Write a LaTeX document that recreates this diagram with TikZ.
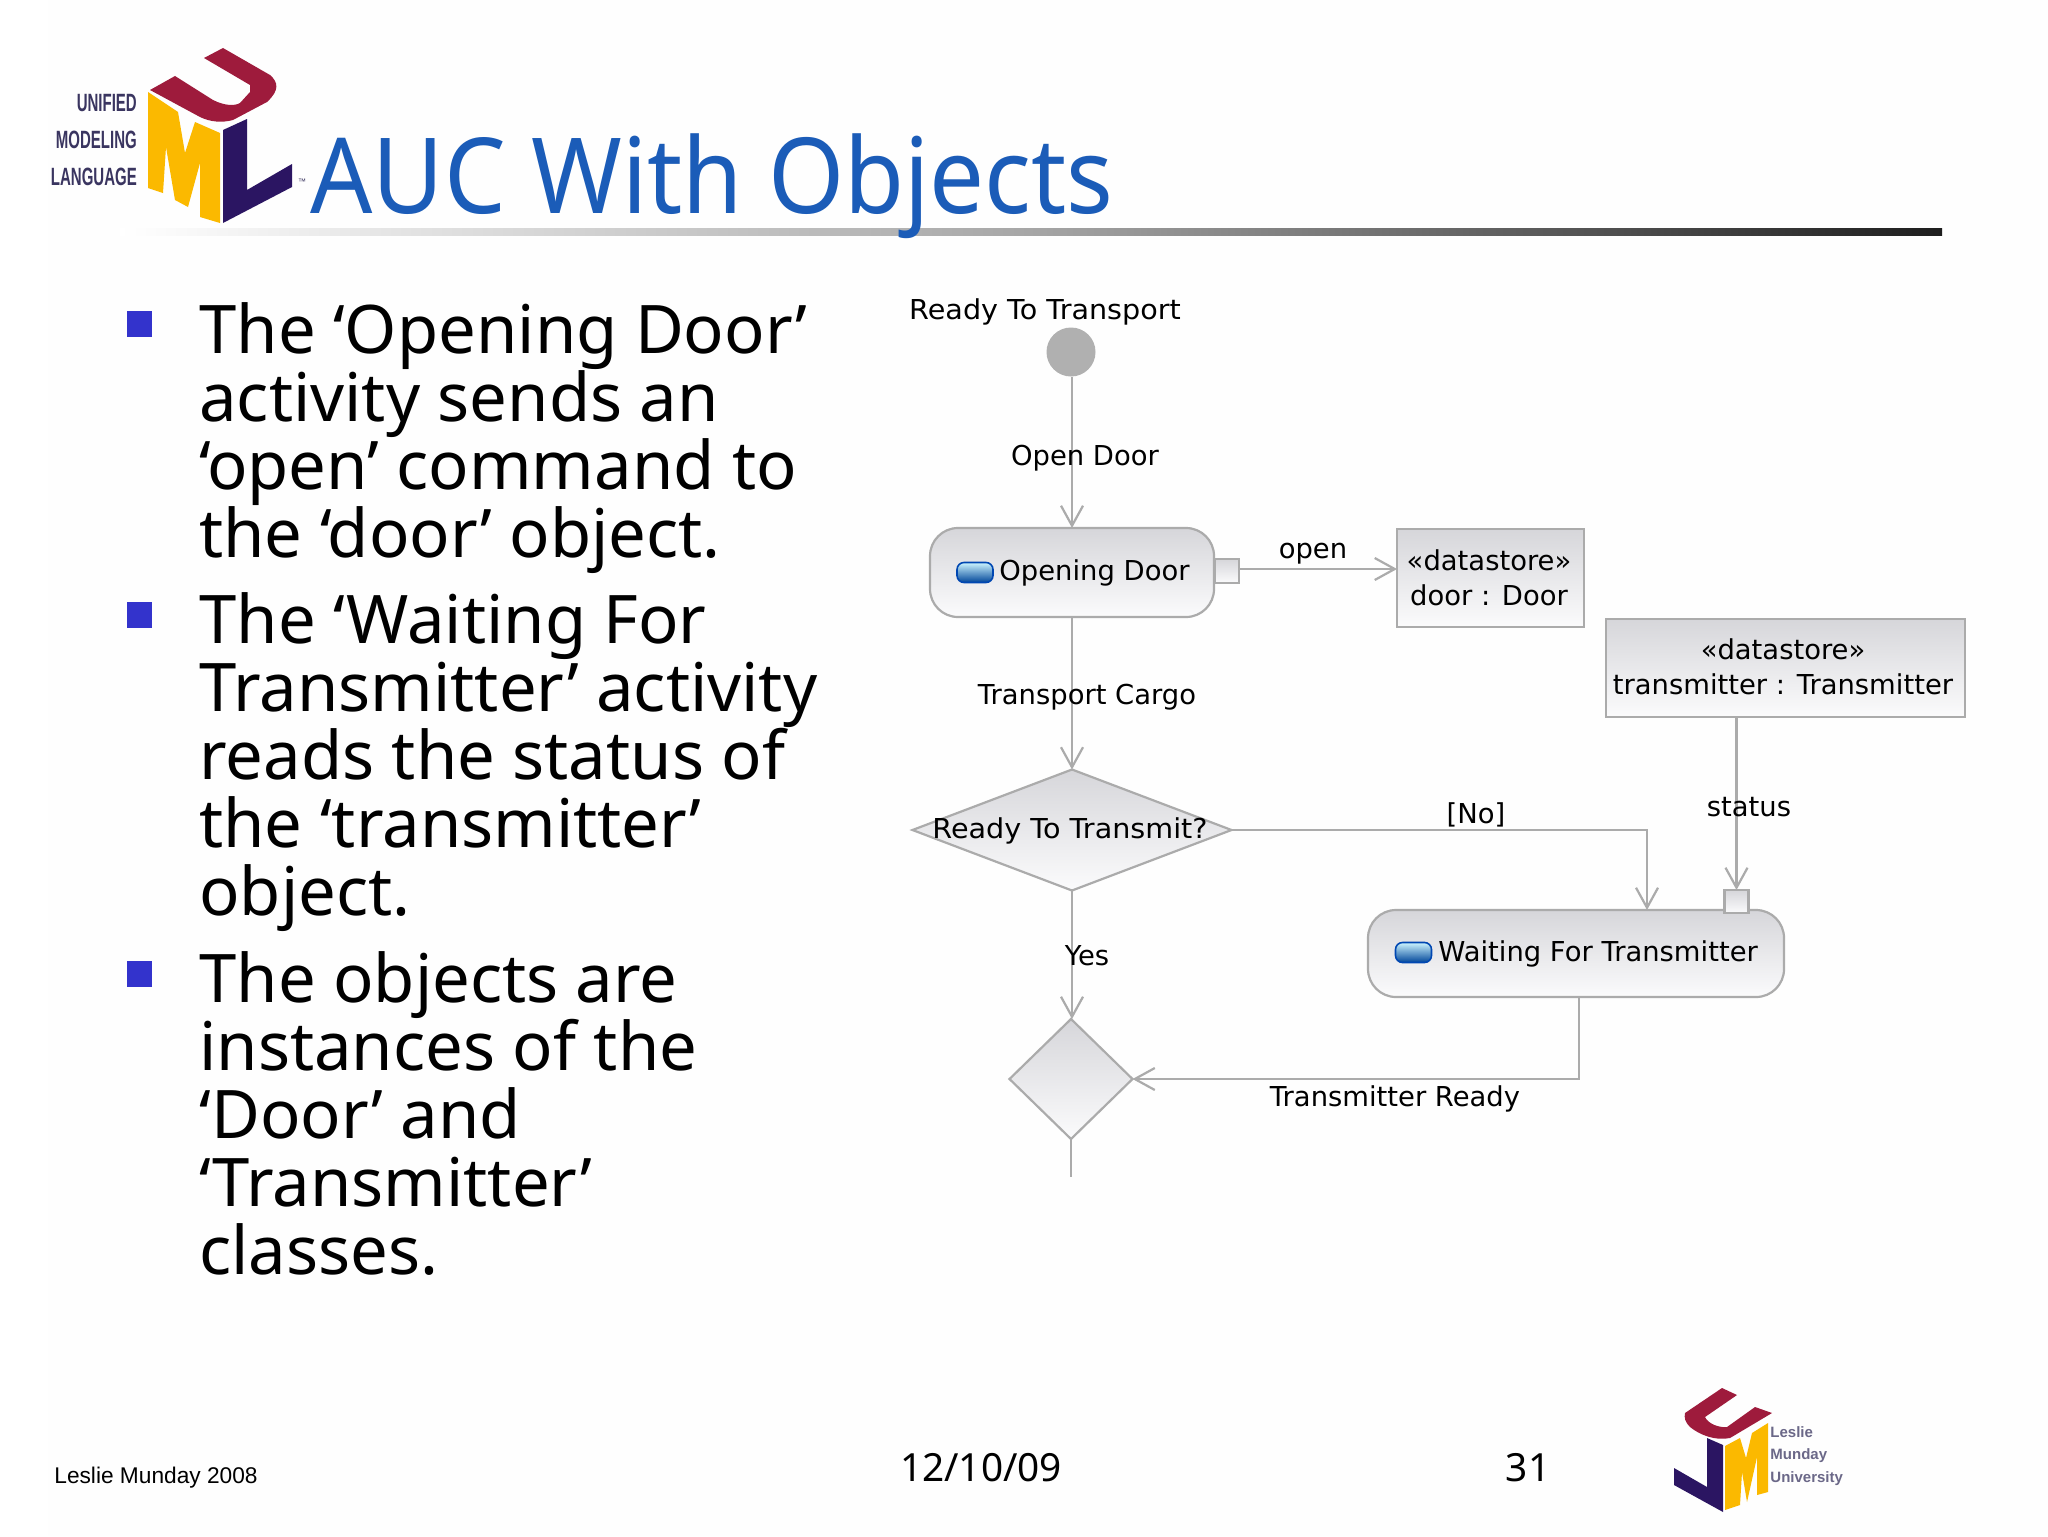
\documentclass[tikz,border=0pt]{standalone}
\usepackage{fontspec}
\setmainfont{Noto Sans}
\newfontfamily\diagfont{DejaVu Sans}
\newfontfamily\arialfont{Liberation Sans}
\usetikzlibrary{shapes.geometric,arrows.meta,calc}
\definecolor{linegray}{HTML}{ABABAB}
\definecolor{startgray}{HTML}{B0B0B0}
\definecolor{fillend}{HTML}{FBFBFC}
\definecolor{fillstart}{HTML}{D6D6DA}
\definecolor{titleblue}{HTML}{1B5CB8}
\definecolor{bulletblue}{HTML}{3333CC}
\definecolor{umlred}{HTML}{9E1B3C}
\definecolor{umlyellow}{HTML}{FBB900}
\definecolor{umlnavy}{HTML}{2B1562}
\definecolor{logotext}{HTML}{3A3560}
\definecolor{pagebg}{HTML}{FEFEFE}
\definecolor{ruleend}{HTML}{1E1E1E}
\tikzset{
  px/.style={x=0.5pt,y=-0.5pt},
  base/.style={draw=linegray,line width=1.1pt,top color=fillstart,bottom color=fillend,inner sep=0pt,outer sep=0pt},
  activity/.style={base,rounded corners=14pt},
  objbox/.style={base,rectangle},
  pinbox/.style={base,rectangle,minimum width=12pt,minimum height=12pt},
  decision/.style={base,diamond,aspect=1},
  conn/.style={draw=linegray,line width=1.1pt},
  flow/.style={conn,-{Straight Barb[length=10pt,width=11pt,line width=1.1pt]}},
  dlabel/.style={font=\diagfont\fontsize{13.7}{16}\selectfont,text=black,inner sep=0pt,align=center},
  widelabel/.style={dlabel,xscale=1.045},
  bodytext/.style={font=\fontsize{33.5}{34}\selectfont,text=black,inner sep=0pt,anchor=north west,align=left},
  bulletmark/.style={fill=bulletblue,inner sep=0pt,minimum width=12.5pt,minimum height=13pt},
  logolabel/.style={font=\arialfont\bfseries\fontsize{12.5}{12.5}\selectfont,text=logotext,inner sep=0pt,anchor=east,xscale=0.6},
  icon/.style={draw=blue!60!cyan!70!black,line width=0.8pt,top color=blue!20!cyan!20,bottom color=blue!55!cyan!60!black,rounded corners=3.5pt,inner sep=0pt,minimum width=18pt,minimum height=10pt},
}
\begin{document}
\begin{tikzpicture}[px]
\useasboundingbox (0,0) rectangle (2048,1536);
\fill[pagebg] (0,0) rectangle (2048,1536);
\fill[white] (0,0) rectangle (48,1536);
% title rule
\shade[left color=white,right color=ruleend,middle color=black!35] (120,228) rectangle (1942,235);
\node[font=\fontsize{52.5}{60}\selectfont,text=titleblue,anchor=base west,inner sep=0pt,xscale=0.93] (title) at (310,213) {AUC With Objects};
% UML logo
\fill[umlyellow] (148,92) -- (178,112) -- (185,153) -- (195,122) -- (220,133) -- (220,223) -- (200,217) -- (200,163) -- (188,207) -- (175,200) -- (166,147) -- (163,193) -- (148,188) -- cycle;
\fill[umlred] (150,90) -- (175,76) -- (213,100) .. controls (225,106) and (235,106) .. (240,103) -- (250,92) -- (250,85) -- (204,58) -- (223,48) -- (270,75) .. controls (278,82) and (280,90) .. (267,102) -- (233,120) .. controls (222,123) and (210,122) .. (200,117) -- cycle;
\fill[umlnavy] (223,130) -- (247,119) -- (247,190) -- (292,164) -- (292,187) -- (223,223) -- cycle;
\node[logolabel] (l1) at (137,103) {UNIFIED};
\node[logolabel] (l2) at (137,140) {MODELING};
\node[logolabel] (l3) at (137,177) {LANGUAGE};
\node[font=\arialfont\fontsize{4}{4}\selectfont,text=logotext,inner sep=0pt] (tm) at (302,182) {™};
% bullets
\node[bulletmark] (b1) at (139.5,324) {};
\node[bulletmark] (b2) at (139.5,615) {};
\node[bulletmark] (b3) at (139.5,974) {};
\node[bodytext] (t1) at (199,302) {The ‘Opening Door’\\activity sends an\\‘open’ command to\\the ‘door’ object.};
\node[bodytext] (t2) at (199,592) {The ‘Waiting For\\Transmitter’ activity\\reads the status of\\the ‘transmitter’\\object.};
\node[bodytext] (t3) at (199,951) {The objects are\\instances of the\\‘Door’ and\\‘Transmitter’\\classes.};
% diagram nodes
\node[circle,fill=startgray,minimum size=24.5pt,inner sep=0pt,outer sep=0pt] (start) at (1071,352) {};
\node[activity,minimum width=142pt,minimum height=44.5pt] (opening) at (1072,572.5) {};
\node[pinbox] (pin1) at (1227,571) {};
\node[objbox,minimum width=93.5pt,minimum height=49pt] (door) at (1490.5,578) {};
\node[objbox,minimum width=179.5pt,minimum height=49pt] (tx) at (1785.5,668) {};
\node[decision,minimum width=159.5pt,minimum height=60.5pt] (d1) at (1072,830) {};
\node[activity,minimum width=208pt,minimum height=43.5pt] (wft) at (1576,953.5) {};
\node[pinbox,minimum height=11.5pt] (pin2) at (1736.5,901.5) {};
\node[decision,minimum width=61.5pt,minimum height=60pt] (d2) at (1071,1079) {};
\coordinate (wftin) at (1647,910);
\coordinate (wftout) at (1579,997);
\coordinate (flowend) at (1071,1177);
\coordinate (pinout) at (1239,569);
% connectors
\draw[flow] (start.south -| opening.north) -- (opening.north);
\draw[flow] (opening.south) -- (opening.south |- d1.north);
\draw[flow] (pinout) -- (pinout -| door.west);
\draw[flow] (d1.east) -| (wftin);
\draw[flow] (pin2.north |- tx.south) -- (pin2.north);
\draw[flow] (d1.south) -- (d1.south |- d2.north);
\draw[flow] (wftout) |- (d2.east);
\draw[conn] (d2.south) -- (flowend);
% icons
\node[icon] (ic1) at (975,572.5) {};
\node[icon] (ic2) at (1413.5,952.5) {};
% labels
\node[widelabel] (lb1) at (1045,312) {Ready To Transport};
\node[dlabel] (lb2) at (1085,458) {Open Door};
\node[dlabel,anchor=west] (lb3) at (999,573) {Opening Door};
\node[dlabel] (lb4) at (1313,554) {open};
\node[dlabel] (lb5) at (1489,560) {«datastore»};
\node[dlabel] (lb6) at (1489,595) {door : Door};
\node[dlabel] (lb7) at (1783,649) {«datastore»};
\node[dlabel] (lb8) at (1783,684) {transmitter : Transmitter};
\node[dlabel] (lb9) at (1087,697) {Transport Cargo};
\node[widelabel] (lb10) at (1070,831) {Ready To Transmit?};
\node[dlabel] (lb11) at (1476,815) {[No]};
\node[dlabel] (lb12) at (1749,807) {status};
\node[dlabel,anchor=west] (lb13) at (1438,954) {Waiting For Transmitter};
\node[dlabel] (lb14) at (1087,956) {Yes};
\node[dlabel] (lb15) at (1395,1099) {Transmitter Ready};
% footer
\node[font=\arialfont\fontsize{11.35}{14}\selectfont,anchor=west,inner sep=0pt] (f1) at (54,1478) {Leslie Munday 2008};
\node[font=\fontsize{19.4}{24}\selectfont,inner sep=0pt] (f2) at (981,1468) {12/10/09};
\node[font=\fontsize{19.4}{24}\selectfont,inner sep=0pt] (f3) at (1528,1468) {31};
% JMU logo
\fill[umlnavy] (1707,1438) -- (1723,1445) -- (1723,1512) -- (1674,1485) -- (1674,1468) -- (1707,1487) -- cycle;
\fill[umlyellow] (1725,1446) -- (1740,1438) -- (1746,1458) -- (1752,1433) -- (1768,1423) -- (1768,1492) -- (1757,1495) -- (1757,1457) -- (1747,1502) -- (1742,1472) -- (1740,1505) -- (1725,1510) -- cycle;
\fill[umlred] (1685,1413) -- (1722,1388) -- (1737,1395) -- (1705,1417) .. controls (1708,1424) and (1720,1428) .. (1727,1427) -- (1755,1407) -- (1772,1413) -- (1730,1438) .. controls (1715,1441) and (1700,1435) .. (1690,1427) .. controls (1685,1422) and (1684,1418) .. (1685,1413) -- cycle;
\node[font=\arialfont\bfseries\fontsize{7.5}{9}\selectfont,text=logotext!75,anchor=west,inner sep=0pt] (j1) at (1770,1432) {Leslie};
\node[font=\arialfont\bfseries\fontsize{7.5}{9}\selectfont,text=logotext!75,anchor=west,inner sep=0pt] (j2) at (1770,1456) {Munday};
\node[font=\arialfont\bfseries\fontsize{7.5}{9}\selectfont,text=logotext!75,anchor=west,inner sep=0pt] (j3) at (1770,1479) {University};
\end{tikzpicture}
\end{document}
